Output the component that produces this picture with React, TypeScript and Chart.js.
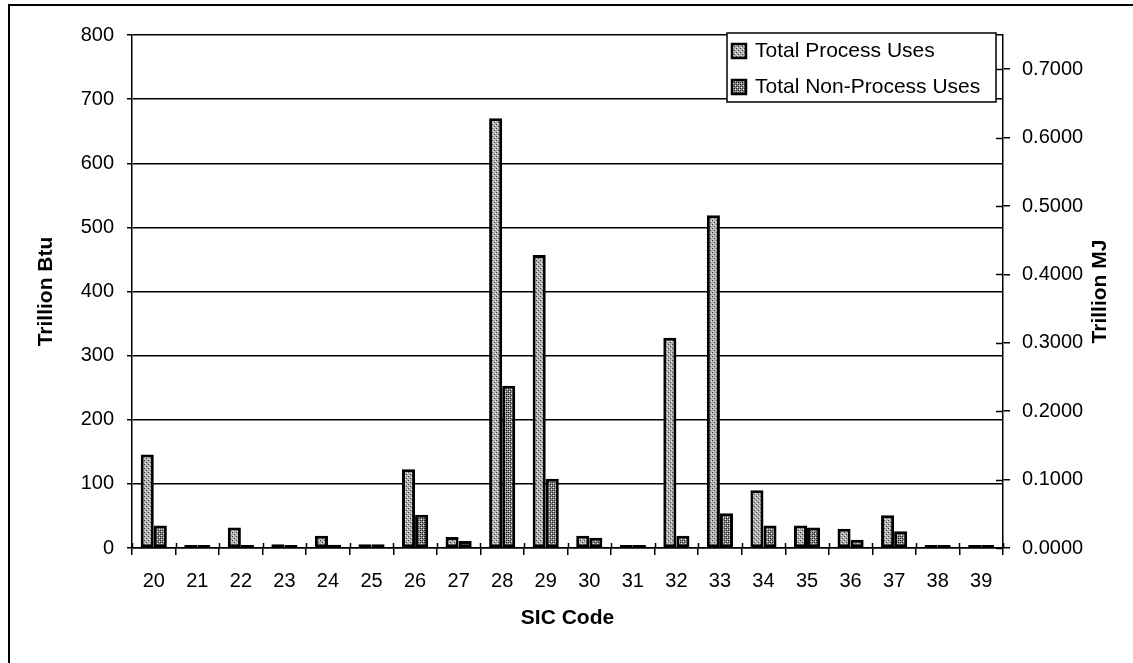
import React, { useEffect, useRef } from "react";
import { Chart, registerables } from "chart.js";

Chart.register(...registerables);

const categories = ["20", "21", "22", "23", "24", "25", "26", "27", "28", "29", "30", "31", "32", "33", "34", "35", "36", "37", "38", "39"];
const processUses = [146, 1, 32, 6, 19, 6, 123, 17, 670, 457, 19, 1, 328, 519, 90, 35, 30, 51, 2, 2];
const nonProcessUses = [35, 1, 4, 4.5, 5, 6, 52, 11, 253, 108, 16, 0.5, 19, 54, 35, 32, 13, 26, 4, 2];
const leftTicks = [0, 100, 200, 300, 400, 500, 600, 700, 800];
const rightTicks = [0, 0.1, 0.2, 0.3, 0.4, 0.5, 0.6, 0.7];
const RIGHT_MAX = 0.75;
const seriesLabels = ["Total Process Uses", "Total Non-Process Uses"];
const rightTitle = "Trillion MJ";

const FONT = "'Liberation Sans', Arial, sans-serif";

function makePattern(base: string, dot: string, dense: boolean): CanvasPattern | string {
  const c = document.createElement("canvas");
  c.width = 4;
  c.height = 4;
  const g = c.getContext("2d");
  if (!g) return base;
  g.fillStyle = base;
  g.fillRect(0, 0, 4, 4);
  g.fillStyle = dot;
  g.fillRect(0, 0, 1, 1);
  g.fillRect(2, 2, 1, 1);
  if (dense) {
    g.fillRect(2, 0, 1, 1);
    g.fillRect(0, 2, 1, 1);
  }
  g.fillStyle = "#f0f0f0";
  g.fillRect(1, 3, 1, 1);
  g.fillRect(3, 1, 1, 1);
  const p = g.createPattern(c, "repeat");
  return p || base;
}

export default function App() {
  const ref = useRef<HTMLCanvasElement | null>(null);

  useEffect(() => {
    const canvas = ref.current;
    if (!canvas) return;
    const pProcess = makePattern("#b0b0b0", "#404040", false);
    const pNon = makePattern("#888888", "#202020", true);

    const framePlugin = {
      id: "frame",
      beforeDraw(chart: any) {
        const ctx = chart.ctx;
        ctx.save();
        ctx.fillStyle = "#ffffff";
        ctx.fillRect(0, 0, chart.width, chart.height);
        ctx.strokeStyle = "#000";
        ctx.lineWidth = 2;
        ctx.beginPath();
        ctx.moveTo(9, 663);
        ctx.lineTo(9, 5);
        ctx.lineTo(1133, 5);
        ctx.stroke();
        ctx.restore();
      },
      afterDraw(chart: any) {
        const ctx = chart.ctx;
        const area = chart.chartArea;
        ctx.save();
        ctx.strokeStyle = "#000";
        ctx.lineWidth = 1.5;
        // inner tick marks on x axis (between categories)
        const n = categories.length;
        const step = (area.right - area.left) / n;
        ctx.beginPath();
        for (let i = 0; i <= n; i++) {
          const x = Math.round(area.left + i * step) + 0.5;
          ctx.moveTo(x, area.bottom - 5);
          ctx.lineTo(x, area.bottom);
        }
        // inner tick marks on right axis
        const ry = chart.scales.yRight;
        for (const v of rightTicks) {
          const y = Math.round(ry.getPixelForValue(v)) + 0.5;
          ctx.moveTo(area.right - 7, y);
          ctx.lineTo(area.right, y);
        }
        ctx.stroke();

        // right axis title, reading bottom-to-top
        ctx.save();
        ctx.translate(1100, (area.top + area.bottom) / 2);
        ctx.rotate(-Math.PI / 2);
        ctx.font = `bold 21px ${FONT}`;
        ctx.fillStyle = "#000";
        ctx.textAlign = "center";
        ctx.textBaseline = "middle";
        ctx.fillText(rightTitle, 0, 0);
        ctx.restore();

        // legend box
        const lx = 727, ly = 33, lw = 269, lh = 69;
        ctx.fillStyle = "#ffffff";
        ctx.fillRect(lx, ly, lw, lh);
        ctx.lineWidth = 1.5;
        ctx.strokeRect(lx, ly, lw, lh);
        const fills = [pProcess, pNon];
        const ys = [51, 87];
        ctx.font = `21px ${FONT}`;
        ctx.textBaseline = "middle";
        ctx.textAlign = "left";
        for (let i = 0; i < 2; i++) {
          ctx.fillStyle = fills[i] as any;
          ctx.fillRect(732, ys[i] - 7, 14, 14);
          ctx.lineWidth = 2.5;
          ctx.strokeRect(732, ys[i] - 7, 14, 14);
          ctx.fillStyle = "#000";
          ctx.fillText(seriesLabels[i], 755, ys[i]);
        }
        ctx.restore();
      },
    };

    const barStyle = {
      borderColor: "#000",
      borderWidth: 3,
      borderSkipped: false,
      minBarLength: 3,
      categoryPercentage: 0.6,
      barPercentage: 1.0,
      yAxisID: "y",
    };

    const chart = new Chart(canvas, {
      type: "bar",
      data: {
        labels: categories,
        datasets: [
          { label: seriesLabels[0], data: processUses, backgroundColor: pProcess as any, ...barStyle },
          { label: seriesLabels[1], data: nonProcessUses, backgroundColor: pNon as any, ...barStyle },
        ],
      },
      options: {
        animation: false,
        responsive: false,
        maintainAspectRatio: false,
        layout: { padding: { left: 0, right: 0, top: 35, bottom: 0 } },
        plugins: {
          legend: { display: false },
          tooltip: { enabled: false },
          title: { display: false },
        },
        scales: {
          x: {
            type: "category",
            offset: true,
            grid: {
              display: true,
              drawOnChartArea: false,
              drawTicks: true,
              tickLength: 7,
              offset: true,
              color: "#000",
              lineWidth: 1.5,
            },
            border: { display: true, color: "#000", width: 1.5 },
            ticks: {
              color: "#000",
              font: { family: FONT, size: 20 },
              padding: 14,
              maxRotation: 0,
              autoSkip: false,
            },
            title: {
              display: true,
              text: "SIC Code",
              color: "#000",
              font: { family: FONT, size: 21, weight: "bold" },
              padding: { top: 0, bottom: 32 },
            },
            afterFit(scale: any) {
              scale.height = 115;
            },
          },
          y: {
            type: "linear",
            position: "left",
            min: 0,
            max: 800,
            afterBuildTicks(scale: any) {
              scale.ticks = leftTicks.map((v) => ({ value: v }));
            },
            grid: {
              color: "#000",
              lineWidth: 1.5,
              drawTicks: true,
              tickLength: 5,
            },
            border: { display: true, color: "#000", width: 1.5 },
            ticks: {
              color: "#000",
              font: { family: FONT, size: 20 },
              padding: 13,
            },
            title: {
              display: true,
              text: "Trillion Btu",
              color: "#000",
              font: { family: FONT, size: 21, weight: "bold" },
              padding: { top: 34, bottom: 0 },
            },
            afterFit(scale: any) {
              scale.width = 132;
            },
          },
          yRight: {
            type: "linear",
            position: "right",
            min: 0,
            max: RIGHT_MAX,
            afterBuildTicks(scale: any) {
              scale.ticks = rightTicks.map((v) => ({ value: v }));
            },
            grid: {
              drawOnChartArea: false,
              color: "#000",
              lineWidth: 1.5,
              drawTicks: true,
              tickLength: 7,
            },
            border: { display: true, color: "#000", width: 1.5 },
            ticks: {
              color: "#000",
              font: { family: FONT, size: 20 },
              padding: 12,
              callback: (v: any) => Number(v).toFixed(4),
            },
            title: { display: false },
            afterFit(scale: any) {
              scale.width = 130;
            },
          },
        },
      } as any,
      plugins: [framePlugin],
    });
    return () => chart.destroy();
  }, []);

  return (
    <div style={{ position: "absolute", left: 0, top: 0, width: 1133, height: 663 }}>
      <canvas ref={ref} width={1133} height={663} style={{ width: 1133, height: 663, display: "block" }} />
    </div>
  );
}
